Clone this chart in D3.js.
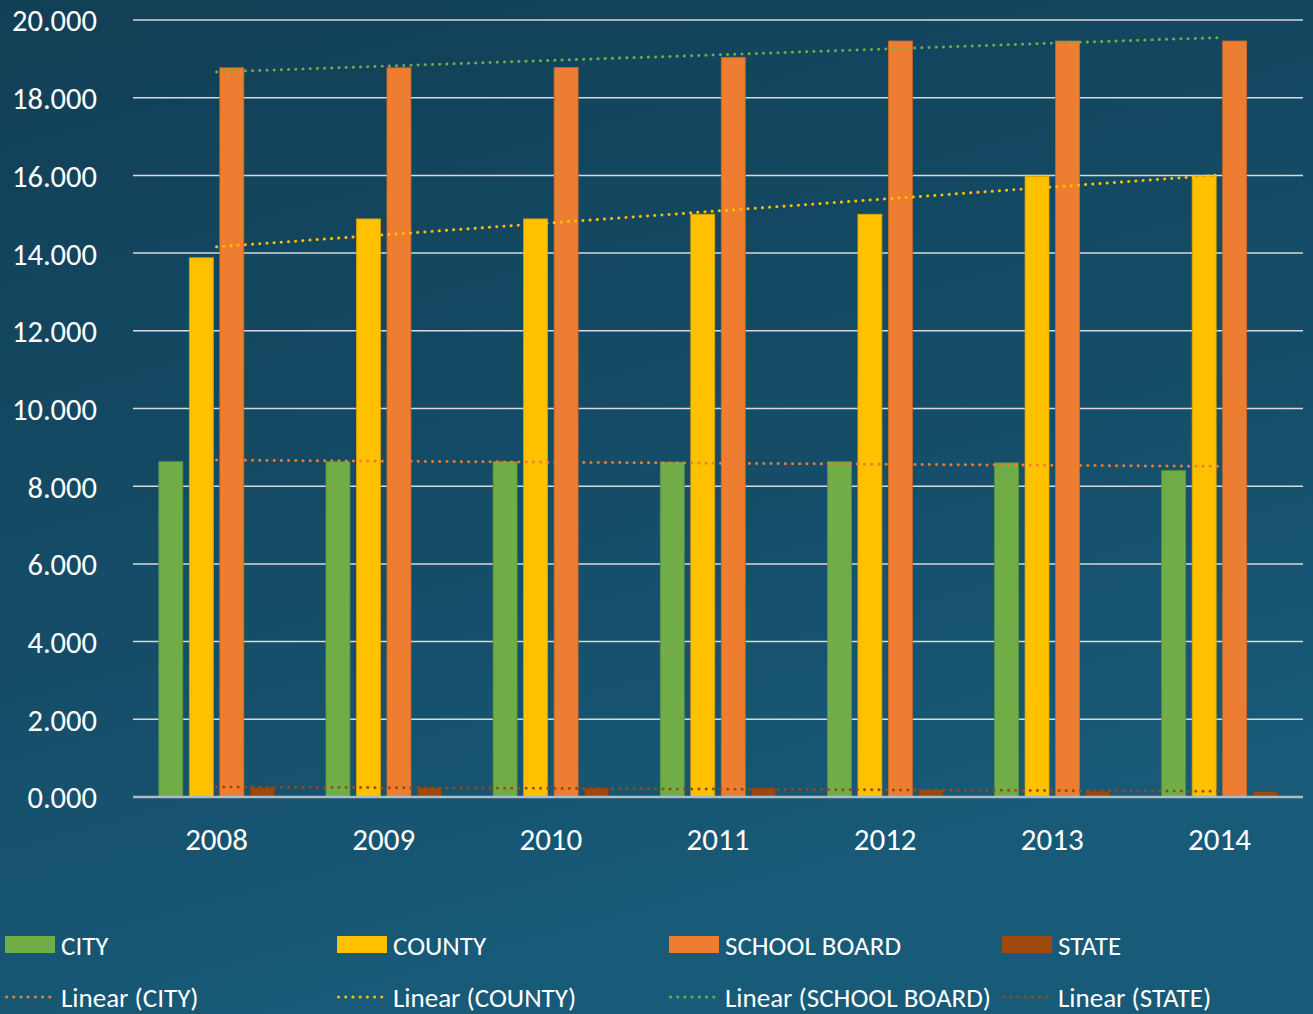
<!DOCTYPE html>
<html><head><meta charset="utf-8">
<script src="https://cdn.jsdelivr.net/npm/d3@7/dist/d3.min.js"></script>
<style>
html,body{margin:0;padding:0;background:#134a64;}
svg{display:block;}
text{font-family:Carlito,Lato,"Open Sans",sans-serif;fill:#ffffff;}
</style></head>
<body>
<svg id="chart" width="1313" height="1014"></svg>
<script>
const years = ["2008","2009","2010","2011","2012","2013","2014"];
const seriesNames = ["CITY","COUNTY","SCHOOL BOARD","STATE"];
const city = [8.63, 8.63, 8.63, 8.62, 8.63, 8.60, 8.40];
const county = [13.88, 14.88, 14.88, 15.00, 15.00, 15.98, 15.98];
const schoolBoard = [18.77, 18.77, 18.78, 19.04, 19.46, 19.46, 19.46];
const state = [0.24, 0.24, 0.23, 0.23, 0.19, 0.15, 0.14];
const yTicks = [0,2,4,6,8,10,12,14,16,18,20];
const barColors = ["#70AD47","#FFC000","#ED7D31","#9E480E"];
const trendColors = ["#ED7D31","#FFC000","#70AD47","#9E480E"];

const values = [city, county, schoolBoard, state];
const svg = d3.select("#chart");
const W = 1313, H = 1014;

// background gradient
const defs = svg.append("defs");
const lg = defs.append("linearGradient").attr("id","bg").attr("x1","0").attr("y1","0").attr("x2","0.35").attr("y2","1");
lg.append("stop").attr("offset","0").attr("stop-color","#113f56");
lg.append("stop").attr("offset","0.6").attr("stop-color","#154d68");
lg.append("stop").attr("offset","1").attr("stop-color","#185b79");
svg.append("rect").attr("width",W).attr("height",H).attr("fill","url(#bg)");

const plot = {left:133, right:1303, top:20, bottom:797};
const x0 = d3.scaleBand().domain(years).range([plot.left, plot.right]).paddingInner(0).paddingOuter(0);
const innerW = 115.5;
const x1 = d3.scaleBand().domain(seriesNames).range([-innerW/2, innerW/2]).paddingInner(0.213).paddingOuter(0);
const y = d3.scaleLinear().domain([0,20]).range([plot.bottom, plot.top]);

// gridlines
svg.append("g").selectAll("line").data(yTicks.filter(t=>t>0)).join("line")
  .attr("x1",plot.left).attr("x2",plot.right)
  .attr("y1",d=>y(d)).attr("y2",d=>y(d))
  .attr("stroke","#d9d9d9").attr("stroke-width",1.5);

// y axis labels
const yAxis = d3.axisLeft(y).tickValues(yTicks).tickFormat(d=>d3.format(".3f")(d)).tickSize(0).tickPadding(0);
const gy = svg.append("g").attr("transform","translate(97,0)").call(yAxis);
gy.select(".domain").remove();
gy.selectAll("text").attr("font-size",30.5).attr("fill","#fff").attr("dy","0.36em")
  .style("font-family","Carlito,Lato,sans-serif");

// bars
const cols = svg.append("g");
seriesNames.forEach((s,si)=>{
  cols.append("g").selectAll("rect").data(years.map((yr,i)=>({yr,v:values[si][i]}))).join("rect")
    .attr("x",d=>x0(d.yr)+x0.bandwidth()/2 + x1(s))
    .attr("width",x1.bandwidth())
    .attr("y",d=>y(d.v))
    .attr("height",d=>y(0)-y(d.v))
    .attr("fill",barColors[si])
    .attr("stroke",d3.color(barColors[si]).darker(0.5)).attr("stroke-width",0.8);
});

// x axis line
svg.append("line").attr("x1",plot.left).attr("x2",plot.right).attr("y1",y(0)).attr("y2",y(0))
  .attr("stroke","#a9bcc8").attr("stroke-width",2.5);

// x labels
const xAxis = d3.axisBottom(x0).tickSize(0).tickPadding(0);
const gx = svg.append("g").attr("transform",`translate(0,${y(0)})`).call(xAxis);
gx.select(".domain").remove();
gx.selectAll("text").attr("font-size",31).attr("fill","#fff").attr("dy","1.72em")
  .style("font-family","Carlito,Lato,sans-serif");

// linear trendlines (least squares on the series)
function linReg(vals){
  const xs=vals.map((_,i)=>i+1);
  const mx=d3.mean(xs), my=d3.mean(vals);
  const b=d3.sum(xs.map((xv,i)=>(xv-mx)*(vals[i]-my)))/d3.sum(xs.map(xv=>(xv-mx)**2));
  const a=my-b*mx;
  return xs.map(xv=>a+b*xv);
}
const cx = yr => x0(yr)+x0.bandwidth()/2;
seriesNames.forEach((s,si)=>{
  const fit = linReg(values[si]);
  const first = 0, last = years.length-1;
  svg.append("line")
    .attr("x1",cx(years[first])).attr("y1",y(fit[first]))
    .attr("x2",cx(years[last])).attr("y2",y(fit[last]))
    .attr("stroke",trendColors[si]).attr("stroke-width",3)
    .attr("stroke-linecap","round").attr("stroke-dasharray","0.1 7.1");
});

// legend
const legendX = [5, 337, 669, 1002];
const leg = svg.append("g");
seriesNames.forEach((s,i)=>{
  leg.append("rect").attr("x",legendX[i]).attr("y",936).attr("width",50).attr("height",17).attr("fill",barColors[i]);
  leg.append("text").attr("x",legendX[i]+56).attr("y",955).attr("font-size",27).text(s);
  leg.append("line").attr("x1",legendX[i]+1.5).attr("x2",legendX[i]+48).attr("y1",997).attr("y2",997)
    .attr("stroke",trendColors[i]).attr("stroke-width",3).attr("stroke-linecap","round").attr("stroke-dasharray","0.1 7.1");
  leg.append("text").attr("x",legendX[i]+56).attr("y",1007).attr("font-size",27).text(`Linear (${s})`);
});
</script>
</body></html>
